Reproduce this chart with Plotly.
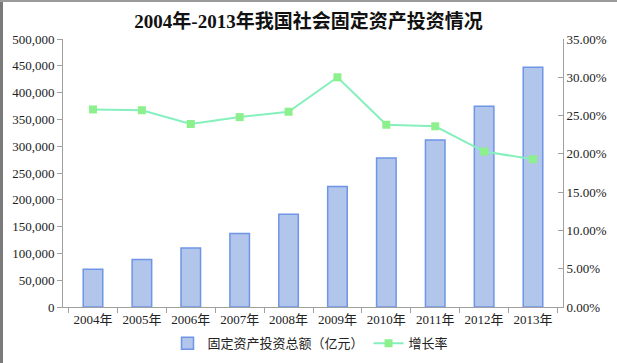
import plotly.graph_objects as go

years = ["2004年", "2005年", "2006年", "2007年", "2008年", "2009年", "2010年", "2011年", "2012年", "2013年"]
investment = [70477, 88774, 109998, 137324, 172828, 224599, 278122, 311485, 374695, 447074]
growth = [0.258, 0.257, 0.239, 0.248, 0.255, 0.300, 0.238, 0.236, 0.203, 0.193]

left_ticks = [0, 50000, 100000, 150000, 200000, 250000, 300000, 350000, 400000, 450000, 500000]
right_ticks = [0, 0.05, 0.10, 0.15, 0.20, 0.25, 0.30, 0.35]

font_fam = "Liberation Serif, Noto Sans CJK SC, serif"
tf = dict(family=font_fam, size=13, color="#222")

fig = go.Figure()
fig.add_trace(go.Bar(
    x=years, y=investment, name="固定资产投资总额（亿元）",
    marker=dict(color="#b2c5ea", line=dict(color="#6e95e6", width=1.5)),
    yaxis="y",
))
fig.add_trace(go.Scatter(
    x=years, y=growth, name="增长率", mode="lines+markers",
    line=dict(color="#85f0bd", width=2),
    marker=dict(symbol="square", size=8, color="#8cf08c"),
    yaxis="y2",
))

ML, MR, MT, MB = 63, 54, 39, 56
W, H = 617, 363
pw, ph = W - ML - MR, H - MT - MB

fig.update_layout(
    width=W, height=H,
    margin=dict(l=ML, r=MR, t=MT, b=MB, autoexpand=False),
    paper_bgcolor="white", plot_bgcolor="white",
    font=dict(family=font_fam, size=13, color="#222"),
    title=dict(text="<b>2004年-2013年我国社会固定资产投资情况</b>", x=0.5, xanchor="center",
               y=1 - 21 / H, yanchor="middle", font=dict(family=font_fam, size=19, color="#111")),
    bargap=0.6,
    showlegend=True,
    legend=dict(orientation="h", x=0.495, xanchor="center", y=-0.135, yanchor="middle",
                font=dict(size=13, family="Noto Sans CJK SC, sans-serif", color="#222"),
                itemwidth=30),
    xaxis=dict(type="category", showline=True, linecolor="#a0a0a0", linewidth=1,
               ticks="outside", tickson="boundaries", ticklen=5, tickcolor="#a0a0a0",
               showgrid=False, tickfont=tf, automargin=False),
    yaxis=dict(range=[0, 500000], tickvals=left_ticks, tickformat=",", showline=True,
               linecolor="#a0a0a0", linewidth=1, ticks="outside", ticklen=5,
               tickcolor="#a0a0a0", showgrid=False, zeroline=False, tickfont=tf,
               automargin=False),
    yaxis2=dict(range=[0, 0.35], tickvals=right_ticks, tickformat=".2%", overlaying="y",
                side="right", showline=True, linecolor="#a0a0a0", linewidth=1,
                ticks="inside", ticklen=5, tickcolor="#a0a0a0", showgrid=False,
                zeroline=False, tickfont=tf, automargin=False),
    shapes=[
        dict(type="line", xref="paper", yref="paper", x0=-ML / pw + 1.5 / pw, x1=-ML / pw + 1.5 / pw,
             y0=-MB / ph, y1=1 + MT / ph, line=dict(color="#7a7a7a", width=3)),
        dict(type="line", xref="paper", yref="paper", x0=-ML / pw, x1=1 + MR / pw,
             y0=1 + MT / ph - 1 / ph, y1=1 + MT / ph - 1 / ph, line=dict(color="#9a9a9a", width=2)),
    ],
)

fig.write_html("out.html", config={"displayModeBar": False},
               post_script="document.body.style.margin='0px';document.body.style.overflow='hidden';")
